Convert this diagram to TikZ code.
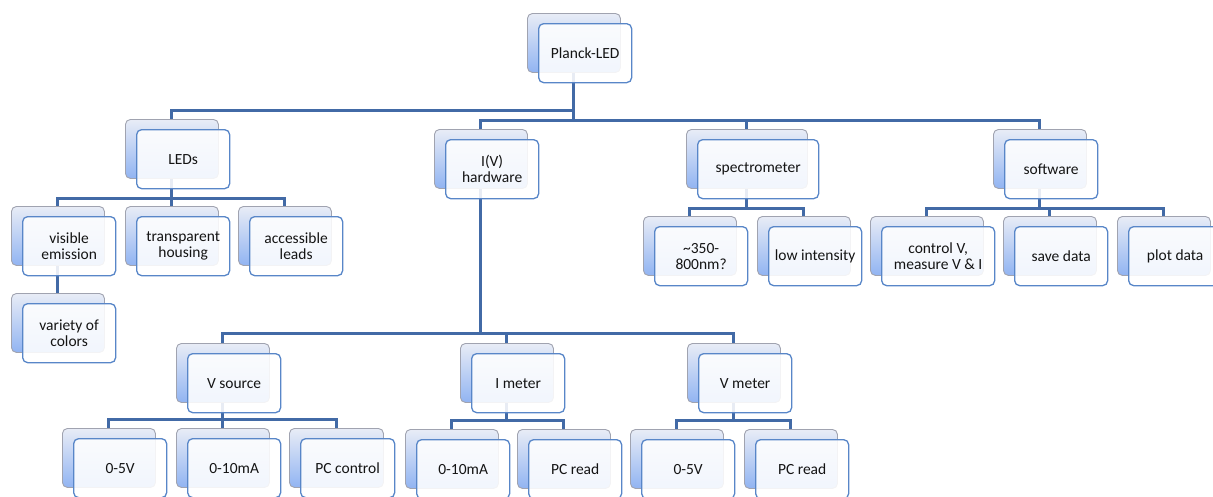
\documentclass[tikz,border=0pt]{standalone}
\usepackage{fontspec}
\setmainfont{Carlito}
\usetikzlibrary{positioning,calc}
\definecolor{backtop}{RGB}{232,236,246}
\definecolor{backbot}{RGB}{145,180,242}
\definecolor{backedge}{RGB}{160,163,176}
\definecolor{frontedge}{RGB}{88,134,200}
\definecolor{connclr}{RGB}{66,106,166}
\definecolor{txt}{RGB}{20,20,20}
\pgfdeclarelayer{bg}
\pgfsetlayers{bg,main}
\tikzset{
  backbox/.style={draw=backedge, line width=0.9pt, rounded corners=5pt,
    top color=backtop, bottom color=backbot, minimum height=59pt, inner sep=0pt},
  frontbox/.style={draw=frontedge, line width=1.3pt, rounded corners=5pt,
    fill=white, fill opacity=0.88, text opacity=1, text=txt, minimum height=59pt,
    inner sep=2pt, align=center, font=\fontsize{15.5pt}{16pt}\selectfont},
  conn/.style={draw=connclr, line width=3pt}
}
\newcommand{\elem}[5]{%
  \node[backbox, minimum width=#4pt, anchor=north west] (#1) at (#2,#3) {};
  \node[frontbox, minimum width=#4pt, anchor=north west] (#1-f) at ([xshift=11pt,yshift=-10pt]#1.north west) {#5};
}
\begin{document}
\begin{tikzpicture}[x=1pt,y=-1pt]
\useasboundingbox (0,0) rectangle (1213,496);
% level 0
\elem{P}{527}{13}{93}{Planck-LED}
% level 1
\elem{leds}{125}{119}{93}{LEDs}
\elem{iv}{434}{129}{93}{I(V)\\hardware}
\elem{spec}{686}{129}{121}{spectrometer}
\elem{soft}{993}{129}{93}{software}
% LEDs children
\elem{vis}{11}{206}{93}{visible\\emission}
\elem{trans}{125}{206}{93}{transparent\\housing}
\elem{acc}{238}{206}{93}{accessible\\leads}
\elem{var}{11}{293}{93}{variety of\\colors}
% spectrometer children
\elem{range}{643}{216}{93}{\textasciitilde350-\\800nm?}
\elem{low}{757}{216}{93}{low intensity}
% software children
\elem{ctrl}{870}{216}{113}{control V,\\measure V \& I}
\elem{save}{1003}{216}{93}{save data}
\elem{plot}{1117}{216}{93}{plot data}
% I(V) children
\elem{vsrc}{176}{343}{93}{V source}
\elem{imet}{460}{343}{93}{I meter}
\elem{vmet}{687}{343}{93}{V meter}
% V source children
\elem{vsA}{62}{428}{93}{0-5V}
\elem{vsB}{176}{428}{93}{0-10mA}
\elem{vsC}{289}{428}{94}{PC control}
% I meter children
\elem{imA}{405}{429}{93}{0-10mA}
\elem{imB}{517}{429}{93}{PC read}
% V meter children
\elem{vmA}{630}{429}{93}{0-5V}
\elem{vmB}{744}{429}{93}{PC read}

\begin{pgfonlayer}{bg}
  \draw[conn] (P.south) -- ++(0,38) -| (leds.north);
  \draw[conn] (P.south) -- ++(0,48) -| (iv.north);
  \draw[conn] (P.south) -- ++(0,48) -| (spec.north);
  \draw[conn] (P.south) -- ++(0,48) -| (soft.north);
  \foreach \c in {vis,trans,acc}
    \draw[conn] (leds.south) -- ++(0,20) -| (\c.north);
  \draw[conn] (vis.south) -- (var.north);
  \foreach \c in {range,low}
    \draw[conn] (spec.south) -- ++(0,20) -| (\c.north);
  \foreach \c in {ctrl,save,plot}
    \draw[conn] (soft.south) -- ++(0,20) -| (\c.north);
  \foreach \c in {vsrc,imet,vmet}
    \draw[conn] (iv.south) -- ++(0,145) -| (\c.north);
  \foreach \c in {vsA,vsB,vsC}
    \draw[conn] (vsrc.south) -- ++(0,17) -| (\c.north);
  \foreach \c in {imA,imB}
    \draw[conn] (imet.south) -- ++(0,18) -| (\c.north);
  \foreach \c in {vmA,vmB}
    \draw[conn] (vmet.south) -- ++(0,18) -| (\c.north);
\end{pgfonlayer}
\end{tikzpicture}
\end{document}
